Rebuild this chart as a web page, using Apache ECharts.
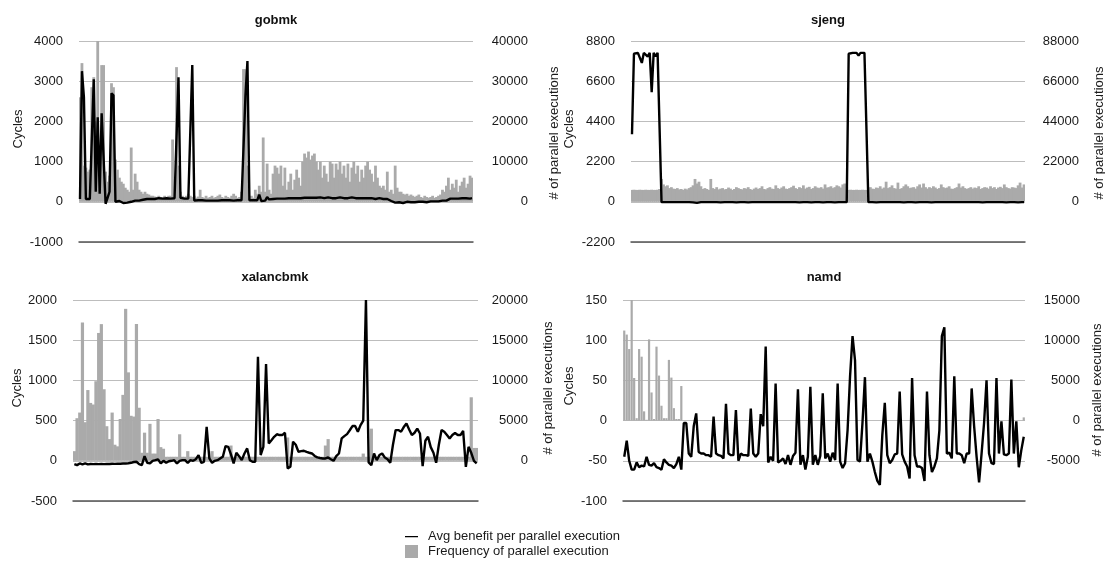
<!DOCTYPE html>
<html>
<head>
<meta charset="utf-8">
<title>Parallel execution benefit</title>
<script src="https://cdn.jsdelivr.net/npm/echarts@6/dist/echarts.min.js"></script>
<style>
  html, body { margin: 0; padding: 0; background: #fff; }
  #chart { width: 1105px; height: 565px; }
</style>
</head>
<body>
<div id="chart"></div>
<script>
const lineName = 'Avg benefit per parallel execution'
const barName = 'Frequency of parallel execution'
const titles = ['gobmk', 'sjeng', 'xalancbmk', 'namd']

// tick labels (left = cycles, right = # of parallel executions)
const gobmkCycleTicks = [-1000, 0, 1000, 2000, 3000, 4000]
const gobmkFreqTicks = [-10000, 0, 10000, 20000, 30000, 40000]
const sjengCycleTicks = [-2200, 0, 2200, 4400, 6600, 8800]
const sjengFreqTicks = [-22000, 0, 22000, 44000, 66000, 88000]
const xalanCycleTicks = [-500, 0, 500, 1000, 1500, 2000]
const xalanFreqTicks = [-5000, 0, 5000, 10000, 15000, 20000]
const namdCycleTicks = [-100, -50, 0, 50, 100, 150]
const namdFreqTicks = [-10000, -5000, 0, 5000, 10000, 15000]

// gobmk
const gobmkCycles = [
  70, 3250, 2600, 70, 70, 70, 80, 3050, 250, 2100,
  200, 2200, 2200, -50, 100, 250, 2700, 2650, 0, 10,
  20, 0, -30, -40, -20, 10, 0, 20, 30, 10,
  30, 40, 50, 60, 70, 70, 70, 80, 70, 80,
  90, 80, 80, 90, 90, 80, 80, 100, 90, 100,
  3100, 100, 80, 80, 90, 80, 80, 3400, 30, 30,
  40, 30, 40, 30, 30, 40, 30, 40, 30, 40,
  30, 40, 40, 30, 40, 30, 40, 40, 30, 40,
  40, 30, 40, 40, 2650, 3500, 40, 60, 40, 40,
  40, 180, 20, 60, 30, 120, 60, 50, 70, 60,
  80, 70, 80, 90, 80, 70, 90, 80, 90, 100,
  90, 80, 90, 100, 100, 90, 100, 110, 100, 90,
  100, 100, 110, 100, 90, 100, 110, 100, 90, 80,
  90, 100, 110, 100, 90, 100, 90, 100, 110, 100,
  90, 80, 90, 100, 90, 80, 90, 100, 90, 80,
  70, 80, 90, 80, 70, 80, 70, 60, 20, 0,
  -20, 10, -10, 0, -30, -10, 0, -20, -10, 0,
  -10, -20, 0, -10, 0, 10, -10, 0, 10, 0,
  10, 20, 10, 20, 30, 20, 30, 70, 80, 70,
  80, 90, 80, 80, 90, 80, 90, 90, 80, 90
]
const gobmkFreq = [
  26000, 34500, 9000, 8500, 7500, 8000, 28500, 31000, 20000, 40000,
  9000, 34000, 34000, 7500, 5000, 6500, 29500, 28500, 10500, 8000,
  6000, 5000, 4500, 3500, 3000, 2500, 13500, 3000, 7000, 5000,
  3000, 2500, 2000, 2500, 2000, 1800, 1500, 1500, 1300, 1200,
  1500, 1200, 1000, 1500, 1200, 1500, 1500, 15500, 3000, 33500,
  9000, 2500, 1500, 1200, 1500, 2000, 1500, 1200, 1500, 1000,
  1300, 3000, 1200, 1000, 1500, 1000, 1200, 1500, 1000, 1200,
  1500, 1800, 1200, 1000, 1500, 1200, 1000, 1500, 2000, 1500,
  1000, 1200, 2500, 33000, 33000, 9000, 1000, 1500, 1000, 3000,
  2000, 4000, 2500, 16000, 2500, 9500, 3000, 2000, 7000, 9000,
  8500, 7000, 9000, 4000, 8500, 3000, 5000, 7000, 3000, 5500,
  8000, 6000, 4000, 10000, 12000, 11000, 12500, 10500, 11500, 12000,
  10000, 8000, 10000, 6000, 9000, 7000, 5000, 10000, 9500, 6000,
  9500, 8000, 10000, 7000, 9000, 6000, 9500, 5000, 8500, 10000,
  7000, 9000, 5000, 8000, 6000, 9000, 10000, 8000, 7000, 5000,
  9000, 6000, 4000, 3500, 4000, 3000, 7500, 2500, 3000, 2000,
  9000, 3500, 2500, 2500, 2000, 1800, 2000, 1500, 1800, 1500,
  1200, 1500, 1800, 1200, 1000, 1500, 1200, 1000, 1200, 1500,
  1000, 1200, 1500, 1800, 3000, 2500, 4000, 6000, 3000, 4500,
  3500, 5500, 2500, 4000, 5000, 6000, 3500, 4500, 6500, 6000
]

// sjeng
const sjengCycles = [
  3700, 8100, 8150, 8150, 8150, 7600, 8150, 8150, 7950, 8150,
  6000, 8150, 7950, 8150, 8150, -20, -20, -20, -20, -20,
  -20, -20, -20, -20, -30, -20, -20, -20, -20, -20,
  -20, -30, -50, -60, -20, -20, -30, -20, -60, -20,
  -30, -20, -20, -20, -20, -30, -20, -20, -20, -20,
  -20, -20, -20, -30, -20, -20, -20, -20, -20, -30,
  -20, -20, -20, -20, -20, -20, -30, -20, -20, -20,
  -20, -20, -30, -20, -20, -20, -20, -20, -30, -20,
  -20, -20, -20, -20, -20, -30, -20, -20, -20, -20,
  -20, -30, -20, -20, -20, -20, -20, -30, -20, -20,
  -20, -20, -20, -30, -20, -20, -20, -20, -20, -20,
  8100, 8150, 8150, 8150, 8150, 8000, 8150, 8200, 8150, 8150,
  -20, -20, -20, -20, -30, -20, -20, -20, -20, -20,
  -20, -30, -20, -20, -20, -20, -20, -20, -30, -20,
  -20, -20, -20, -20, -30, -20, -20, -20, -20, -20,
  -20, -20, -30, -20, -20, -20, -20, -20, -20, -30,
  -20, -20, -20, -20, -20, -30, -20, -20, -20, -20,
  -20, -30, -20, -20, -20, -20, -20, -20, -30, -20,
  -20, -20, -20, -30, -20, -20, -20, -20, -20, -20,
  -30, -20, -20, -20, -20, -20, -30, -20, -20, -20
]
const sjengFreq = [
  6500, 6600, 6500, 6500, 6600, 6500, 6500, 6600, 6500, 6500,
  6600, 6500, 6500, 6600, 7000, 12500, 9500, 8500, 9000, 7500,
  8000, 7200, 7000, 7500, 6800, 7000, 6500, 7200, 6800, 7500,
  8000, 9000, 12500, 10000, 11000, 8500, 7000, 7500, 7000, 6500,
  12500, 7500, 7000, 8000, 6800, 7200, 7500, 6800, 7000, 7800,
  7200, 6500, 7000, 8000, 7500, 7000, 6800, 7500, 7200, 8000,
  7000, 6500, 7200, 7800, 7000, 7500, 8500, 7000, 6800, 7500,
  8000, 7200, 7000, 9000, 7500, 7000, 7800, 8500, 7200, 7000,
  7500, 8000, 8800, 7500, 7000, 8000, 7500, 9000, 7200, 7800,
  8200, 7000, 7500, 8500, 7800, 7500, 8000, 7200, 9500, 7800,
  8000, 8500, 7500, 8000, 9000, 8500, 7800, 9500, 10000, 8000,
  6500, 6600, 6500, 6500, 6600, 6500, 6500, 6600, 6500, 6500,
  7500, 8000, 7200, 7000, 7800, 7500, 8500, 7200, 7800, 11000,
  7500, 8000, 9000, 7500, 7200, 10500, 7000, 7500, 8500, 9500,
  8500, 7500, 7800, 8000, 7200, 8500, 9500, 7800, 10000, 8000,
  7200, 8000, 7500, 8500, 7800, 7000, 7500, 9500, 8000, 7500,
  7800, 8500, 7200, 7000, 7500, 8000, 10000, 7800, 8500, 7500,
  7000, 7500, 8000, 7200, 7800, 7500, 8500, 7000, 7500, 8000,
  7800, 7200, 8500, 7500, 8000, 7000, 7800, 8200, 7500, 9500,
  8000, 7500, 7200, 8000, 7800, 7500, 9000, 10500, 7800, 9500
]

// xalancbmk
const xalanCycles = [
  -41, -54, -33, -45, -33, -45, -40, -41, -40, -42,
  -40, -41, -38, -40, -36, -38, -35, -36, -34, -33,
  -30, -25, -15, -12, -41, -54, 58, -25, -33, 0,
  8, 17, -33, 0, -25, -5, 0, 8, -33, 0,
  8, 8, -25, 8, 0, 20, 71, -25, -12, 423,
  29, -25, 0, 8, 30, 50, 183, 174, 80, -33,
  100, 58, 8, 91, 154, 8, -12, -12, 1295, 71,
  174, 1204, 216, 257, 299, 330, 320, 320, 349, -95,
  -75, 237, 200, 112, 120, 125, 110, 100, 91, 60,
  42, 35, 29, 29, 42, 20, 0, 58, 91, 278,
  307, 332, 380, 432, 432, 361, 444, 500, 2000, -20,
  -54, 91, 8, 71, 91, 40, 20, -25, 200, 382,
  382, 361, 420, 465, 390, 320, 349, 400, 340, -66,
  249, 300, 170, 100, -25, 200, 382, 361, 320, 278,
  320, 345, 320, 320, 373, -75, 174, 100, 0, -33
]
const xalanFreq = [
  1200, 5300, 6000, 17200, 4800, 8800, 7200, 7000, 9900, 15900,
  17000, 8900, 4300, 2700, 6000, 2000, 1800, 5200, 8200, 18900,
  11000, 5600, 5500, 17000, 6600, 1000, 3500, 1000, 4600, 900,
  900, 5200, 1700, 1500, 500, 500, 500, 500, 500, 3300,
  500, 500, 1200, 500, 500, 500, 500, 500, 500, 500,
  500, 1200, 500, 500, 500, 500, 500, 500, 1900, 500,
  500, 500, 500, 500, 500, 500, 500, 500, 500, 500,
  500, 500, 500, 500, 500, 500, 500, 500, 500, 2900,
  500, 500, 500, 500, 500, 500, 500, 500, 500, 500,
  500, 500, 500, 1900, 2700, 500, 500, 500, 500, 500,
  500, 500, 500, 500, 500, 500, 500, 900, 500, 500,
  4000, 500, 500, 500, 500, 500, 500, 500, 500, 500,
  500, 500, 500, 500, 500, 500, 500, 500, 500, 500,
  500, 500, 500, 500, 500, 500, 500, 500, 500, 500,
  500, 500, 500, 500, 500, 500, 500, 7900, 1600, 1600
]

// namd
const namdCycles = [
  -45, -25, -50, -61, -61, -52, -58, -56, -57, -45,
  -55, -56, -53, -58, -59, -61, -48, -52, -55, -56,
  -59, -54, -45, -61, -3, -3, -41, -45, -7, 9,
  -39, -41, -41, -43, -43, -45, 5, -41, -43, -44,
  -47, 21, -41, -43, -43, 13, -50, -41, -43, -43,
  -44, 15, -41, -45, -41, 8, -7, 92, -52, -45,
  -50, 46, -52, -50, -47, -54, -43, -55, -44, -40,
  39, -55, -43, -61, -45, 42, -55, -43, -55, -44,
  34, -47, -41, -51, -40, -49, 46, -51, -59, -53,
  -12, 55, 105, 75, -49, -51, -3, 54, -51, -41,
  -51, -64, -75, -80, -18, 22, -43, -53, -49, -42,
  -41, 36, -42, -51, -57, -72, 53, -43, -57, -57,
  -59, -75, 36, -43, -64, -57, -47, -12, 105, 116,
  -41, -40, -47, 55, -41, -41, -43, -53, -41, -41,
  40, -7, -45, -77, -41, -3, 50, -41, -53, -54,
  53, -41, -1, -42, -43, -41, 51, -41, -1, -58,
  -37, -20
]
const namdFreq = [
  11200, 10700, 8900, 15000, 5300, 300, 8900, 7950, 1150, 100,
  10100, 3500, 200, 9200, 5600, 1850, 300, 300, 7550, 5350,
  1550, 200, 200, 4300, 0, 0, 0, 0, 0, 0,
  0, 0, 0, 0, 0, 0, 0, 0, 0, 0,
  0, 0, 0, 0, 0, 0, 0, 0, 0, 0,
  0, 0, 0, 0, 0, 0, 0, 0, 0, 0,
  0, 0, 0, 0, 0, 0, 0, 0, 0, 0,
  0, 0, 0, 0, 0, 0, 0, 0, 0, 0,
  0, 0, 0, 0, 0, 0, 0, 0, 0, 0,
  0, 0, 0, 0, 0, 0, 0, 0, 0, 0,
  0, 0, 0, 0, 0, 0, 0, 0, 0, 0,
  0, 0, 0, 0, 0, 0, 0, 0, 0, 0,
  0, 0, 0, 0, 0, 0, 0, 0, 0, 0,
  0, 0, 0, 0, 0, 0, 0, 0, 0, 0,
  0, 0, 0, 0, 0, 0, 0, 0, 0, 0,
  0, 0, 0, 0, 0, 0, 0, 0, 0, 0,
  0, 400
]

const panels = [
  { cycles: gobmkCycles, freq: gobmkFreq, cycTicks: gobmkCycleTicks, freqTicks: gobmkFreqTicks },
  { cycles: sjengCycles, freq: sjengFreq, cycTicks: sjengCycleTicks, freqTicks: sjengFreqTicks },
  { cycles: xalanCycles, freq: xalanFreq, cycTicks: xalanCycleTicks, freqTicks: xalanFreqTicks },
  { cycles: namdCycles, freq: namdFreq, cycTicks: namdCycleTicks, freqTicks: namdFreqTicks }
]

// where each panel sits on the page; barW a bit wider than a category so dense bars merge
const layout = [
  { left: 79, top: 41, width: 394, rMargin: 55, barW: 2.8, titleX: 276, titleY: 14, cycX: 18.5, cycY: 129, frX: 554, frY: 133 },
  { left: 631, top: 41, width: 394, rMargin: 54, barW: 2.8, titleX: 828, titleY: 14, cycX: 569, cycY: 129, frX: 1099, frY: 133 },
  { left: 73, top: 300, width: 405, rMargin: 50, barW: 3.2, titleX: 275, titleY: 271, cycX: 17.5, cycY: 388, frX: 548, frY: 388 },
  { left: 623, top: 300, width: 402, rMargin: 55, barW: 2.2, titleX: 824, titleY: 271, cycX: 569, cycY: 386, frX: 1097, frY: 390 }
]

const font = '"Liberation Sans", Arial, Helvetica, sans-serif'
const txt = '#1a1a1a'
const plain = v => String(v)

const grid = [], xAxis = [], yAxis = [], series = [], title = [], graphic = []

panels.forEach((p, i) => {
  const lay = layout[i]
  grid.push({ left: lay.left, top: lay.top, width: lay.width, height: 201, containLabel: false, outerBoundsMode: 'none' })
  xAxis.push({
    type: 'category', gridIndex: i, data: p.cycles.map((v, k) => k), boundaryGap: true,
    axisLine: { onZero: false, lineStyle: { color: '#555', width: 1.5 } },
    axisTick: { show: false }, axisLabel: { show: false }, splitLine: { show: false }
  })
  const ct = p.cycTicks, ft = p.freqTicks
  yAxis.push({
    type: 'value', gridIndex: i, position: 'left',
    min: ct[0], max: ct[ct.length - 1], interval: ct[1] - ct[0],
    axisLine: { show: false }, axisTick: { show: false },
    axisLabel: { margin: 16, fontSize: 13, color: txt, fontFamily: font, formatter: plain },
    splitLine: { show: true, lineStyle: { color: '#bdbdbd', width: 1 } }
  })
  yAxis.push({
    type: 'value', gridIndex: i, position: 'right',
    min: ft[0], max: ft[ft.length - 1], interval: ft[1] - ft[0],
    axisLine: { show: false }, axisTick: { show: false },
    axisLabel: { margin: lay.rMargin, align: 'right', showMinLabel: false, fontSize: 13, color: txt, fontFamily: font, formatter: plain },
    splitLine: { show: false }
  })
  series.push({
    name: barName, type: 'bar', xAxisIndex: i, yAxisIndex: 2 * i + 1,
    data: p.freq, barWidth: lay.barW, itemStyle: { color: '#aaaaaa' }, silent: true
  })
  series.push({
    name: lineName, type: 'line', xAxisIndex: i, yAxisIndex: 2 * i,
    data: p.cycles, symbol: 'none', silent: true,
    lineStyle: { color: '#000', width: 2.4 }, itemStyle: { color: '#000' }
  })
  title.push({
    text: titles[i], left: lay.titleX, top: lay.titleY, textAlign: 'center', padding: 0,
    textStyle: { fontSize: 13, fontWeight: 'bold', color: '#111', fontFamily: font }
  })
  // axis names
  graphic.push({
    type: 'text', x: lay.cycX, y: lay.cycY, rotation: Math.PI / 2,
    style: { text: 'Cycles', fontSize: 13, fontFamily: font, fill: txt, align: 'center', verticalAlign: 'middle' }
  })
  graphic.push({
    type: 'text', x: lay.frX, y: lay.frY, rotation: Math.PI / 2,
    style: { text: '# of parallel executions', fontSize: 13, fontFamily: font, fill: txt, align: 'center', verticalAlign: 'middle' }
  })
})

const chart = echarts.init(document.getElementById('chart'), null, { renderer: 'canvas' })
chart.setOption({
  animation: false,
  backgroundColor: '#fff',
  textStyle: { fontFamily: font },
  title: title,
  grid: grid,
  xAxis: xAxis,
  yAxis: yAxis,
  series: series,
  graphic: graphic,
  legend: {
    orient: 'vertical', left: 405, top: 530, padding: 0,
    itemWidth: 13, itemHeight: 13, itemGap: 2,
    selectedMode: false,
    textStyle: { fontSize: 13, color: txt, fontFamily: font, padding: [0, 0, 0, 5] },
    data: [
      // thin dash: the tiny corner squares only stretch the icon box to 13x13
      { name: lineName, icon: 'path://M0,0h0.01v0.01h-0.01zM0,6h13v1.2h-13zM12.99,12.99h0.01v0.01h-0.01z' },
      { name: barName, icon: 'rect' }
    ]
  }
})
</script>
</body>
</html>
